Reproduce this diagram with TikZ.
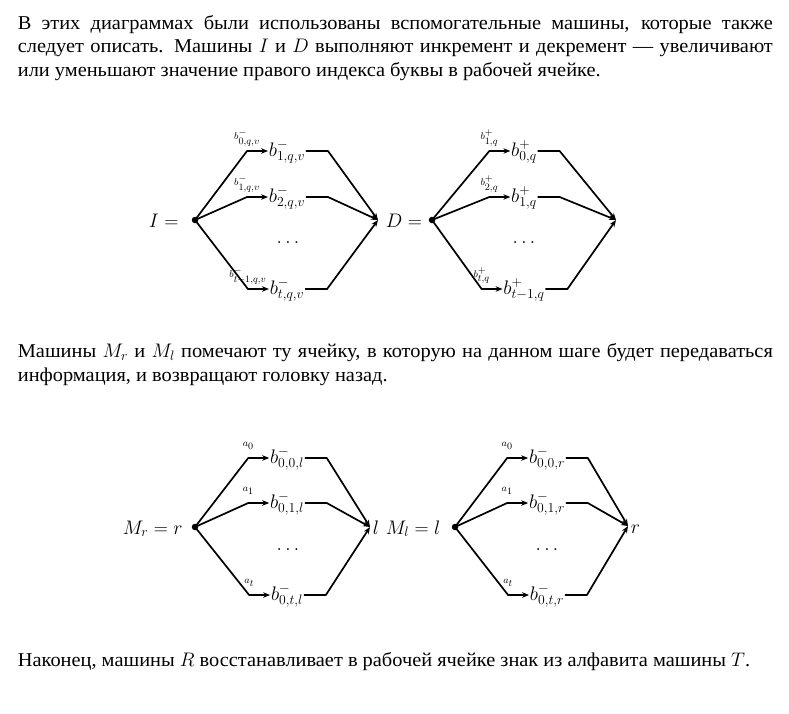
\documentclass[tikz,border=0pt]{standalone}
\usepackage{fix-cm}
\usepackage[no-math]{fontspec}
\setmainfont[FakeStretch=1.04]{Liberation Serif}
\usetikzlibrary{calc,arrows.meta}
\DeclareMathSizes{9.8}{9.8}{9.8}{9.8}
\newcommand\mainsz{\fontsize{19.6}{23.5}\selectfont}
\newcommand\lblsz{\fontsize{9.8}{11}\selectfont}
% #1 name, #2 node centre x, #3 branch y, #4 label, #5 node text, #6 start node, #7 end coordinate
\newcommand\mybranch[7]{%
  \node[bnode] (#1) at (#2,#3+5) {#5};
  \coordinate (#1y) at (#2,#3);
  \coordinate (#1c) at ($(#1.west |- #1y)+(-21,0)$);
  \coordinate (#1e) at ($(#1.east |- #1y)+(22,0)$);
  \node[lbl] (#1l) at ($(#1c)+(0,-11.5)$) {#4};
  \draw[arr] (#6.center) -- (#1c) -- (#1.west |- #1y);
  \draw[arr] (#1.east |- #1y) -- (#1e) -- (#7);
}
\begin{document}
\begin{tikzpicture}[x=1pt,y=-1pt,line width=1.7pt,line join=round,
  txt/.style={inner sep=0pt,font=\mainsz,anchor=base west},
  bnode/.style={inner sep=0pt,font=\mainsz,anchor=base},
  lbl/.style={inner sep=0pt,font=\lblsz,anchor=base},
  dotnode/.style={circle,fill=black,inner sep=0pt,minimum size=6.5pt},
  dotsnode/.style={inner sep=0pt,font=\mainsz,anchor=base},
  arr/.style={-{Stealth[length=7pt,width=5.5pt]}}]
\useasboundingbox (0,0) rectangle (789,713);

% paragraph 1
\node[txt] (p1a) at (17,29) {\makebox[755pt][s]{В этих диаграммах были использованы вспомогательные машины, которые также}};
\node[txt] (p1b) at (17,52.5) {\makebox[755pt][s]{следует описать. Машины $I$ и $D$ выполняют инкремент и декремент — увеличивают}};
\node[txt] (p1c) at (17,76) {или уменьшают значение правого индекса буквы в рабочей ячейке.};

% diagram I
\node[txt] (lI) at (148,227) {$I =$};
\node[dotnode] (sI) at (195,220) {};
\coordinate (eI) at (378,220);
\mybranch{Ia}{287}{151}{$b^-_{0,q,v}$}{$b^-_{1,q,v}$}{sI}{eI}
\mybranch{Ib}{287}{197}{$b^-_{1,q,v}$}{$b^-_{2,q,v}$}{sI}{eI}
\mybranch{Ic}{287}{289}{$b^-_{t-1,q,v}$}{$b^-_{t,q,v}$}{sI}{eI}
\node[dotsnode] (dI) at (288,243.5) {$\dots$};

% diagram D
\node[txt] (lD) at (385,227) {$D =$};
\node[dotnode] (sD) at (432,220) {};
\coordinate (eD) at (616,220);
\mybranch{Da}{524}{151}{$b^+_{1,q}$}{$b^+_{0,q}$}{sD}{eD}
\mybranch{Db}{524}{197}{$b^+_{2,q}$}{$b^+_{1,q}$}{sD}{eD}
\mybranch{Dc}{524}{289}{$b^+_{t,q}$}{$b^+_{t-1,q}$}{sD}{eD}
\node[dotsnode] (dD) at (524,243.5) {$\dots$};

% paragraph 2
\node[txt] (p2a) at (17,357.5) {\makebox[755pt][s]{Машины $M_r$ и $M_l$ помечают ту ячейку, в которую на данном шаге будет передаваться}};
\node[txt] (p2b) at (17,381) {информация, и возвращают головку назад.};

% diagram M_r
\node[txt] (lMr) at (122,534) {$M_r = r$};
\node[dotnode] (sMr) at (195,527) {};
\coordinate (eMr) at (370,527);
\mybranch{Ra}{287}{458}{$a_0$}{$b^-_{0,0,l}$}{sMr}{eMr}
\mybranch{Rb}{287}{503}{$a_1$}{$b^-_{0,1,l}$}{sMr}{eMr}
\mybranch{Rc}{287}{595}{$a_t$}{$b^-_{0,t,l}$}{sMr}{eMr}
\node[dotsnode] (dMr) at (288,550) {$\dots$};
\node[txt] (ll) at (372,534) {$l$};

% diagram M_l
\node[txt] (lMl) at (385,534) {$M_l = l$};
\node[dotnode] (sMl) at (455,527) {};
\coordinate (eMl) at (628,526);
\mybranch{La}{547}{458}{$a_0$}{$b^-_{0,0,r}$}{sMl}{eMl}
\mybranch{Lb}{547}{503}{$a_1$}{$b^-_{0,1,r}$}{sMl}{eMl}
\mybranch{Lc}{547}{595}{$a_t$}{$b^-_{0,t,r}$}{sMl}{eMl}
\node[dotsnode] (dMl) at (547,550) {$\dots$};
\node[txt] (lr) at (630,533) {$r$};

% paragraph 3
\node[txt] (p3) at (17,666) {Наконец, машины $R$ восстанавливает в рабочей ячейке знак из алфавита машины $T$.};
\end{tikzpicture}
\end{document}
